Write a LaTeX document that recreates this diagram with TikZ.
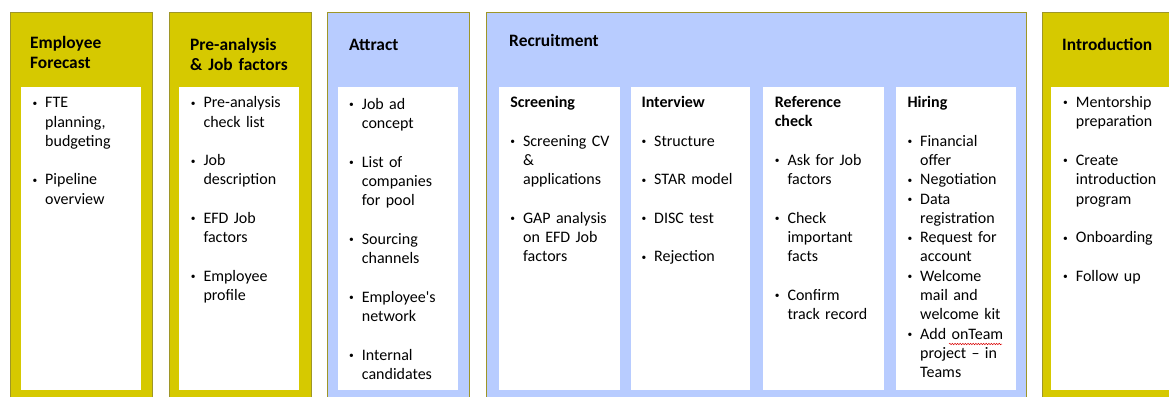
\documentclass[tikz,border=0pt]{standalone}
\usepackage{fontspec}
\setmainfont{Carlito}
\usetikzlibrary{decorations.pathmorphing}
\definecolor{ylw}{RGB}{214,201,0}
\definecolor{blu}{RGB}{184,204,255}
\definecolor{olv}{RGB}{158,150,40}
\setlength{\parskip}{0pt}
\setlength{\parindent}{0pt}
\newlength{\bind}\setlength{\bind}{12.7pt}
\newcommand{\nl}{\newline}
\newcommand{\smbul}{\raisebox{1.6pt}{\fontsize{9.5}{9.5}\selectfont\textbullet}}
\newcommand{\bitm}[1]{\noindent\hangindent=\bind\hangafter=1\hbox to \bind{\smbul\hss}\strut #1\par}
\newcommand{\hd}[1]{\noindent\strut\textbf{#1}\par}
\newcommand{\blank}{\vspace*{19.3pt}}
\newcommand{\ttlfont}{\fontsize{17.4}{20}\selectfont\bfseries}
\newcommand{\lstfont}{\fontsize{16}{19.3}\selectfont}
\tikzset{
  outerY/.style={fill=ylw, draw=olv, line width=0.9pt},
  outerB/.style={fill=blu, draw=olv, line width=0.9pt},
  inner/.style={fill=white},
  ttl/.style={anchor=north west, inner sep=0pt, text width=160pt, font=\ttlfont},
  lst/.style={anchor=north west, inner sep=0pt, text width=140pt, font=\lstfont},
  squig/.style={draw=red!85!black, line width=0.5pt, decorate,
    decoration={snake, amplitude=0.7pt, segment length=2.6pt}}
}
\begin{document}
\begin{tikzpicture}[x=1pt,y=-1pt]
\useasboundingbox (0,0) rectangle (1169,396);
\begin{scope}
\clip (0,0) rectangle (1169,396);
% outer boxes
\path[outerY] (10,12) rectangle (152,420);
\path[outerY] (169,12) rectangle (311,420);
\path[outerB] (327,12) rectangle (469,420);
\path[outerB] (486,12) rectangle (1026,420);
\path[outerY] (1042,12) rectangle (1200,420);
% inner white boxes
\path[inner] (21,86.5) rectangle (141,390);
\path[inner] (179,86.5) rectangle (299,390);
\path[inner] (338,86.5) rectangle (458,390);
\path[inner] (499,86.5) rectangle (620,390);
\path[inner] (631,86.5) rectangle (750,390);
\path[inner] (763,86.5) rectangle (884,390);
\path[inner] (896,86.5) rectangle (1016,390);
\path[inner] (1051,86.5) rectangle (1200,390);
\end{scope}

% titles
\node[ttl] (tEF) at (30,34.3) {\noindent\strut Employee\\Forecast};
\node[ttl] (tPA) at (190,36.7) {\noindent\strut Pre-analysis\\\& Job factors};
\node[ttl] (tAT) at (349,36.7) {\noindent\strut Attract};
\node[ttl] (tRE) at (509,32.7) {\noindent\strut Recruitment};
\node[ttl] (tIN) at (1062,36.7) {\noindent\strut Introduction};

% lists
\node[lst] (lEF) at (32.3,94) {%
\bitm{FTE\nl planning,\nl budgeting}\blank
\bitm{Pipeline\nl overview}};

\node[lst] (lPA) at (190.6,94) {%
\bitm{Pre-analysis\nl check list}\blank
\bitm{Job\nl description}\blank
\bitm{EFD Job\nl factors}\blank
\bitm{Employee\nl profile}};

\node[lst] (lAT) at (349,95.5) {%
\bitm{Job ad\nl concept}\blank
\bitm{List of\nl companies\nl for pool}\blank
\bitm{Sourcing\nl channels}\blank
\bitm{Employee\textquotesingle s\nl network}\blank
\bitm{Internal\nl candidates}};

\node[lst] (lSC) at (510.2,93.8) {%
\hd{Screening}\blank
\bitm{Screening CV\nl \&\nl applications}\blank
\bitm{GAP analysis\nl on EFD Job\nl factors}};

\node[lst] (lIV) at (641.3,93.8) {%
\hd{Interview}\blank
\bitm{Structure}\blank
\bitm{STAR model}\blank
\bitm{DISC test}\blank
\bitm{Rejection}};

\node[lst] (lRC) at (774.6,93.8) {%
\noindent\strut\textbf{Reference}\nl\textbf{check}\par\blank
\bitm{Ask for Job\nl factors}\blank
\bitm{Check\nl important\nl facts}\blank
\bitm{Confirm\nl track record}};

\node[lst] (lHI) at (907.3,93.8) {%
\hd{Hiring}\blank
\bitm{Financial\nl offer}
\bitm{Negotiation}
\bitm{Data\nl registration}
\bitm{Request for\nl account}
\bitm{Welcome\nl mail and\nl welcome kit}
\bitm{Add onTeam\nl project -- in\nl Teams}};

\node[lst] (lIN) at (1063,93.8) {%
\bitm{Mentorship\nl preparation}\blank
\bitm{Create\nl introduction\nl program}\blank
\bitm{Onboarding}\blank
\bitm{Follow up}};

% spell-check squiggle under "onTeam"
\coordinate (sqA) at (949,344);
\coordinate (sqB) at (1002,344);
\path[squig] (sqA) -- (sqB);
\end{tikzpicture}
\end{document}
